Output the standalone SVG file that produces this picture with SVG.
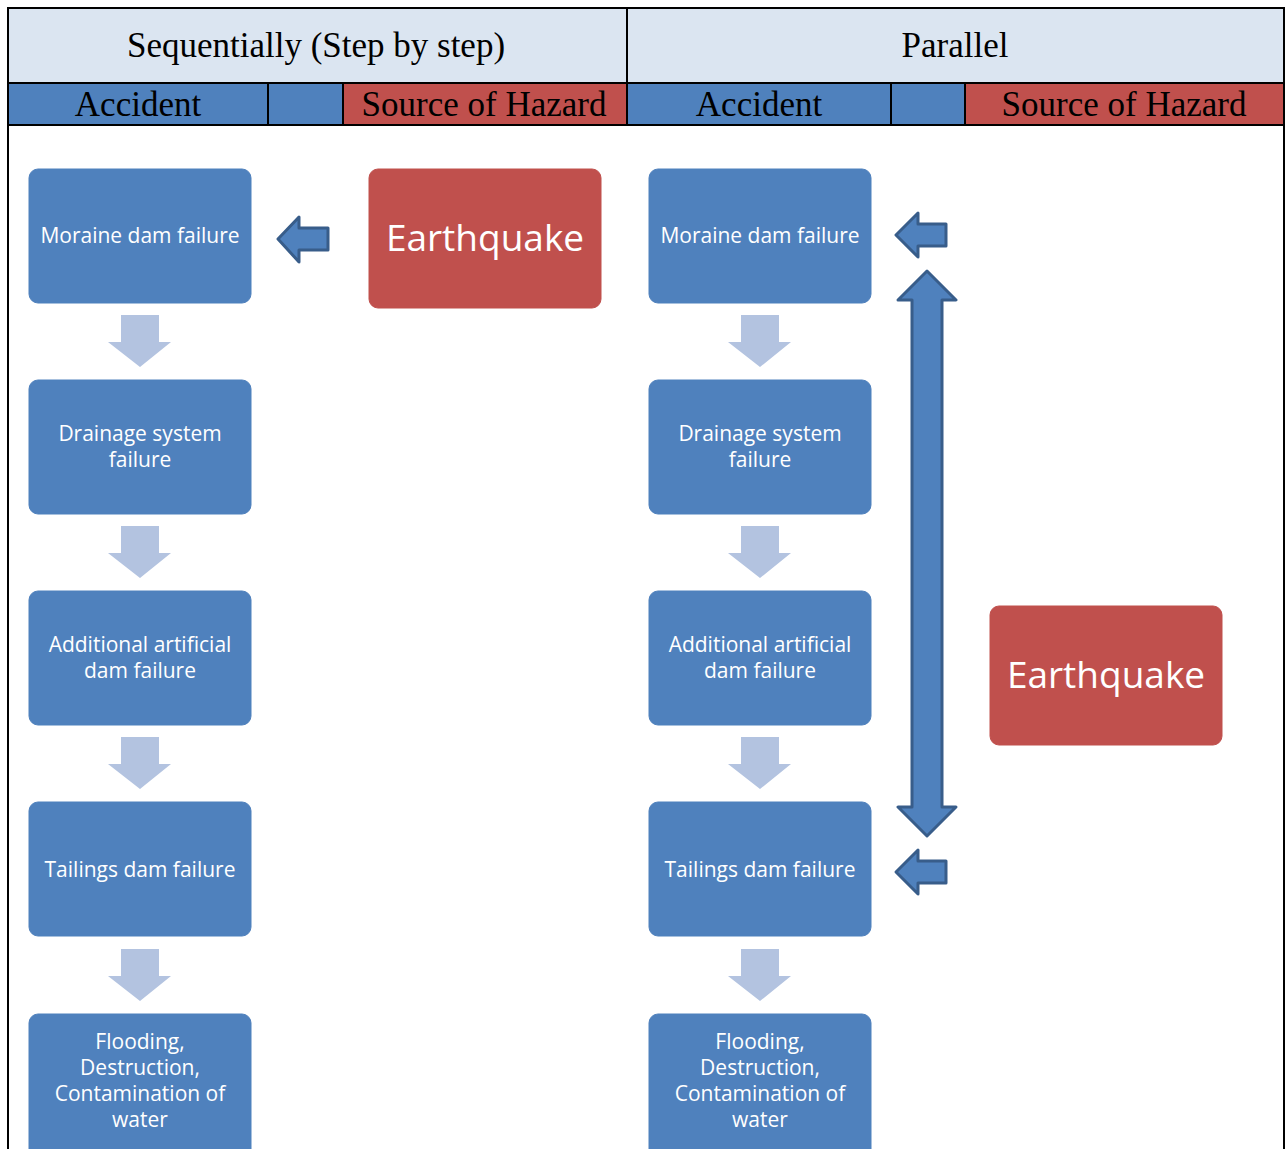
<svg xmlns="http://www.w3.org/2000/svg" width="1288" height="1149" viewBox="0 0 1288 1149">
<style>
.hdr{fill:#dbe5f1}
.blu{fill:#4f81bd}
.red{fill:#c0504d}
.grid{stroke:#000;stroke-width:2;fill:none}
.ht{font-family:"Liberation Serif","DejaVu Serif",serif;font-size:35px;fill:#000;text-anchor:middle}
.box{fill:#4f81bd;stroke:#4f81bd;stroke-width:1}
.eq{fill:#c0504d;stroke:#c0504d;stroke-width:1}
.nt{font-family:"Open Sans","Noto Sans",sans-serif;font-size:21px;fill:#fff;text-anchor:middle}
.et{font-family:"Open Sans","Noto Sans",sans-serif;font-size:37px;fill:#fff;text-anchor:middle}
.down{fill:#b3c3e0}
.blk{fill:#4f81bd;stroke:#385d8a;stroke-width:3;stroke-linejoin:round}
</style>
<defs>
<path id="dn" d="M121,315 H159 V342 H171 L140,367 L108,342 H121 Z"/>
</defs>
<rect width="1288" height="1149" fill="#fff"/>
<g id="table">
<rect class="hdr" x="8" y="8" width="1276" height="75"/>
<rect class="blu" x="8" y="83" width="335" height="42"/>
<rect class="red" x="343" y="83" width="284" height="42"/>
<rect class="blu" x="627" y="83" width="338" height="42"/>
<rect class="red" x="965" y="83" width="319" height="42"/>
<path class="grid" d="M8,1149 V8 H1284 V1149 M8,83 H1284 M8,125 H1284 M627,8 V125 M268,83 V125 M343,83 V125 M891,83 V125 M965,83 V125"/>
<text class="ht" x="316" y="57">Sequentially (Step by step)</text>
<text class="ht" x="955" y="57">Parallel</text>
<text class="ht" x="138" y="116">Accident</text>
<text class="ht" x="484" y="116">Source of Hazard</text>
<text class="ht" x="759" y="116">Accident</text>
<text class="ht" x="1124" y="116">Source of Hazard</text>
</g>
<g id="n_l1"><rect class="box" x="29" y="169" width="222" height="134" rx="9"/><text class="nt" x="140" y="243">Moraine dam failure</text></g>
<g id="n_l2"><rect class="box" x="29" y="380" width="222" height="134" rx="9"/><text class="nt" x="140" y="441">Drainage system</text><text class="nt" x="140" y="467">failure</text></g>
<g id="n_l3"><rect class="box" x="29" y="591" width="222" height="134" rx="9"/><text class="nt" x="140" y="652">Additional artificial</text><text class="nt" x="140" y="678">dam failure</text></g>
<g id="n_l4"><rect class="box" x="29" y="802" width="222" height="134" rx="9"/><text class="nt" x="140" y="877">Tailings dam failure</text></g>
<g id="n_l5"><rect class="box" x="29" y="1014" width="222" height="145" rx="9"/><text class="nt" x="140" y="1049">Flooding,</text><text class="nt" x="140" y="1075">Destruction,</text><text class="nt" x="140" y="1101">Contamination of</text><text class="nt" x="140" y="1127">water</text></g>
<g id="n_eq1"><rect class="eq" x="369" y="169" width="232" height="139" rx="9"/><text class="et" x="485" y="251">Earthquake</text></g>
<g id="n_r1"><rect class="box" x="649" y="169" width="222" height="134" rx="9"/><text class="nt" x="760" y="243">Moraine dam failure</text></g>
<g id="n_r2"><rect class="box" x="649" y="380" width="222" height="134" rx="9"/><text class="nt" x="760" y="441">Drainage system</text><text class="nt" x="760" y="467">failure</text></g>
<g id="n_r3"><rect class="box" x="649" y="591" width="222" height="134" rx="9"/><text class="nt" x="760" y="652">Additional artificial</text><text class="nt" x="760" y="678">dam failure</text></g>
<g id="n_r4"><rect class="box" x="649" y="802" width="222" height="134" rx="9"/><text class="nt" x="760" y="877">Tailings dam failure</text></g>
<g id="n_r5"><rect class="box" x="649" y="1014" width="222" height="145" rx="9"/><text class="nt" x="760" y="1049">Flooding,</text><text class="nt" x="760" y="1075">Destruction,</text><text class="nt" x="760" y="1101">Contamination of</text><text class="nt" x="760" y="1127">water</text></g>
<g id="n_eq2"><rect class="eq" x="990" y="606" width="232" height="139" rx="9"/><text class="et" x="1106" y="688">Earthquake</text></g>
<g id="connectors">
<use href="#dn" class="down"/>
<use href="#dn" class="down" y="211"/>
<use href="#dn" class="down" y="422"/>
<use href="#dn" class="down" y="634"/>
<use href="#dn" class="down" x="620"/>
<use href="#dn" class="down" x="620" y="211"/>
<use href="#dn" class="down" x="620" y="422"/>
<use href="#dn" class="down" x="620" y="634"/>
<path class="blk" d="M278,239 L299,217 V228 H328 V250 H299 V262 Z"/>
<path class="blk" d="M896,235 L918,213 V224 H946 V246 H918 V257 Z"/>
<path class="blk" d="M896,872 L918,850 V861 H946 V883 H918 V894 Z"/>
<path class="blk" d="M927,271 L956,300 H942 V807 H956 L927,836 L898,807 H912 V300 H898 Z"/>
</g>
</svg>
